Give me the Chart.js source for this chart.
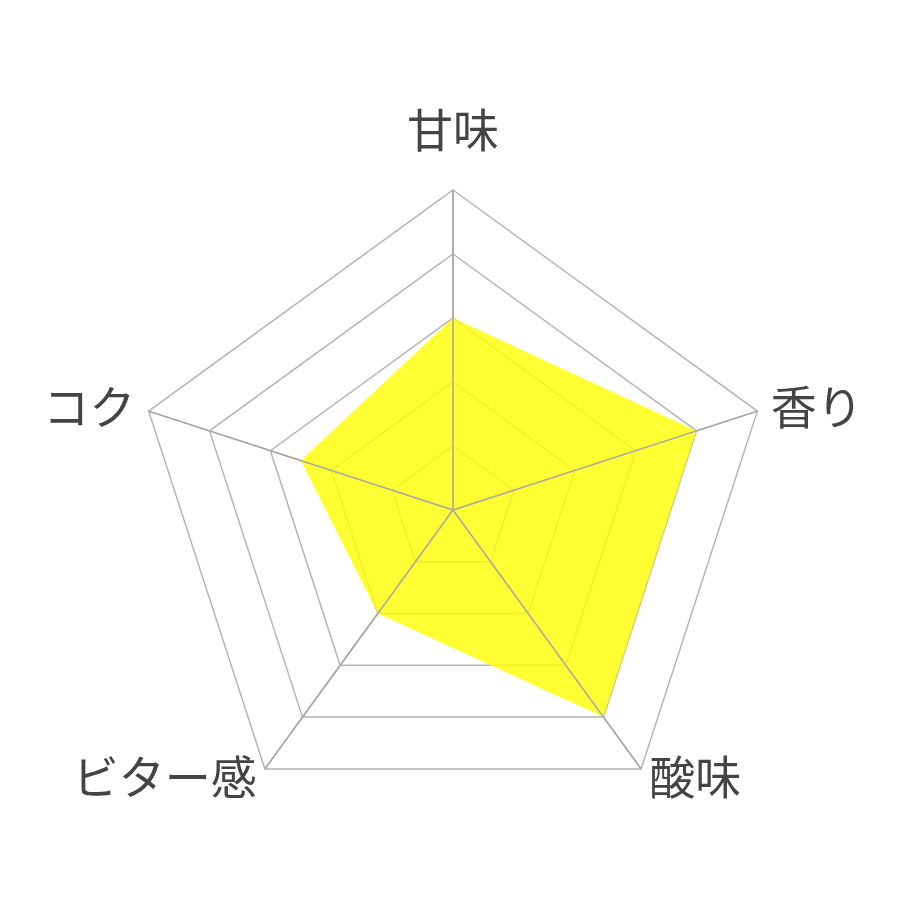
<!DOCTYPE html>
<html>
<head>
<meta charset="utf-8">
<script src="https://cdn.jsdelivr.net/npm/chart.js@4/dist/chart.umd.min.js"></script>
<style>
  html, body { margin: 0; padding: 0; background: #fff; }
  .wrap { width: 920px; height: 920px; }
</style>
</head>
<body>
<div class="wrap"><canvas id="chart"></canvas></div>
<script>
const categories = ['甘味', '香り', '酸味', 'ビター感', 'コク'];
const tasteValues = [3, 4, 4, 2, 2.5];
const scaleMax = 5;

const labelFont = "46px 'Noto Sans CJK JP', 'Noto Sans'";

// angle lines again over the fill, then the category labels
const radarOverlay = {
  id: 'radarOverlay',
  afterDatasetsDraw(chart) {
    const scale = chart.scales.r;
    const ctx = chart.ctx;
    ctx.save();
    ctx.strokeStyle = '#a8a8a8';
    ctx.lineWidth = 1.5;
    for (let i = 0; i < categories.length; i++) {
      const p = scale.getPointPosition(i, scale.drawingArea);
      ctx.beginPath();
      ctx.moveTo(scale.xCenter, scale.yCenter);
      ctx.lineTo(p.x, p.y);
      ctx.stroke();
    }

    ctx.font = labelFont;
    ctx.fillStyle = '#444';
    ctx.textBaseline = 'middle';
    for (let i = 0; i < categories.length; i++) {
      const p = scale.getPointPosition(i, scale.drawingArea + 14);
      const dx = p.x - scale.xCenter;
      let y = p.y;
      if (Math.abs(dx) < 1) {
        ctx.textAlign = 'center';
        y -= (p.y < scale.yCenter) ? 46 : -46;
      } else {
        ctx.textAlign = dx > 0 ? 'left' : 'right';
        if (p.y > scale.yCenter + scale.drawingArea / 2) y -= 4;
      }
      ctx.fillText(categories[i], p.x, y);
    }
    ctx.restore();
  }
};

new Chart(document.getElementById('chart'), {
  type: 'radar',
  data: {
    labels: categories,
    datasets: [{
      data: tasteValues,
      backgroundColor: 'rgba(255, 255, 0, 0.8)',
      borderWidth: 0,
      pointRadius: 0,
      fill: true
    }]
  },
  options: {
    responsive: true,
    maintainAspectRatio: false,
    animation: false,
    layout: { padding: { top: 190, bottom: 90, left: 133, right: 147 } },
    plugins: {
      legend: { display: false },
      tooltip: { enabled: false }
    },
    scales: {
      r: {
        min: 0,
        max: scaleMax,
        ticks: { stepSize: 1, display: false },
        grid: { color: '#b4b4b4', lineWidth: 1.5 },
        angleLines: { color: '#a8a8a8', lineWidth: 1.5 },
        pointLabels: { display: false }
      }
    }
  },
  plugins: [radarOverlay]
});
</script>
</body>
</html>
